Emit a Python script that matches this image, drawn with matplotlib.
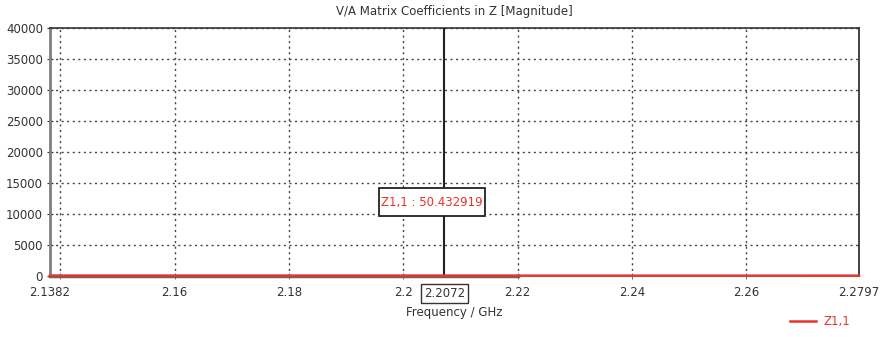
import numpy as np
import matplotlib.pyplot as plt
from matplotlib.patches import Rectangle

# Z1,1 magnitude over frequency (almost flat ~50 ohm)
freq = [2.1382, 2.15, 2.16, 2.17, 2.18, 2.19, 2.2, 2.2072, 2.21, 2.22, 2.23, 2.24, 2.25, 2.26, 2.27, 2.2797]
mag = [50.1, 50.2, 50.2, 50.3, 50.3, 50.4, 50.4, 50.432919, 50.45, 50.5, 50.5, 50.6, 50.6, 50.7, 50.7, 50.8]

xticks = [2.1382, 2.16, 2.18, 2.2, 2.22, 2.24, 2.26, 2.2797]
xticklabels = ['2.1382', '2.16', '2.18', '2.2', '2.22', '2.24', '2.26', '2.2797']
xgrid = [2.14, 2.16, 2.18, 2.2, 2.22, 2.24, 2.26]
yticks = [0, 5000, 10000, 15000, 20000, 25000, 30000, 35000, 40000]
cursor_f = 2.2072
cursor_val = 50.432919

plt.rcParams['font.family'] = ['DejaVu Sans']
fig = plt.figure(figsize=(8.83, 3.37), dpi=100)
ax = fig.add_axes([50 / 883, 1 - 276 / 337, 809 / 883, 248 / 337])

ax.plot(freq, mag, color='#e8332a', lw=1.8, label='Z1,1', zorder=5, clip_on=False)
ax.set_xlim(2.1382, 2.2797)
ax.set_ylim(0, 40000)

ax.xaxis.remove_overlapping_locs = False
ax.set_xticks(xticks)
ax.set_xticklabels(xticklabels)
ax.set_xticks(xgrid, minor=True)
ax.set_yticks(yticks)
ax.tick_params(axis='x', which='major', length=0, labelsize=8.5, colors='#333333', pad=7)
ax.tick_params(axis='x', which='minor', length=4, direction='inout', color='#555555')
ax.tick_params(axis='y', length=4, direction='inout', labelsize=8.5, colors='#333333', pad=3)

grid_ls = (0, (1.5, 2.5))
ax.grid(False)
ax.xaxis.grid(True, which='minor', linestyle=grid_ls, color='#444444', lw=1)
ax.yaxis.grid(True, which='major', linestyle=grid_ls, color='#444444', lw=1)

ax.spines['left'].set_color('#7f7f7f')
ax.spines['left'].set_linewidth(2)
ax.spines['top'].set_color('#333333')
ax.spines['top'].set_linewidth(1.2)
ax.spines['right'].set_color('#222222')
ax.spines['right'].set_linewidth(1.2)
ax.spines['bottom'].set_color('#666666')
ax.spines['bottom'].set_linewidth(2.5)
ax.spines['bottom'].set_bounds(2.1382, 2.22)

# cursor
ax.axvline(cursor_f, color='#222222', lw=1.5, zorder=4)
ax.add_patch(Rectangle((2.1957, 9680), 0.01853, 4520, fc='white', ec='#222222',
                       lw=1.3, zorder=6))
ax.annotate('Z1,1 : %.6f' % cursor_val, xy=(cursor_f, 11900), xytext=(-9, 0),
            textcoords='offset points', color='#e8332a', fontsize=8.5,
            ha='center', va='center', zorder=7)
ax.text(cursor_f, -0.045, '%.4f' % cursor_f, transform=ax.get_xaxis_transform(),
        ha='center', va='top', fontsize=8.5, color='#333333',
        bbox=dict(boxstyle='square,pad=0.25', fc='white', ec='#333333', lw=1))

ax.set_title('V/A Matrix Coefficients in Z [Magnitude]', fontsize=8.5, color='#333333', pad=9)
ax.set_xlabel('Frequency / GHz', fontsize=8.5, color='#333333', labelpad=5)

leg = fig.legend(loc='lower right', bbox_to_anchor=(0.975, -0.005), frameon=False,
                 fontsize=8.5, handlelength=2.2, handletextpad=0.6)
for t in leg.get_texts():
    t.set_color('#e8332a')

fig.savefig('out.png', dpi=100)
